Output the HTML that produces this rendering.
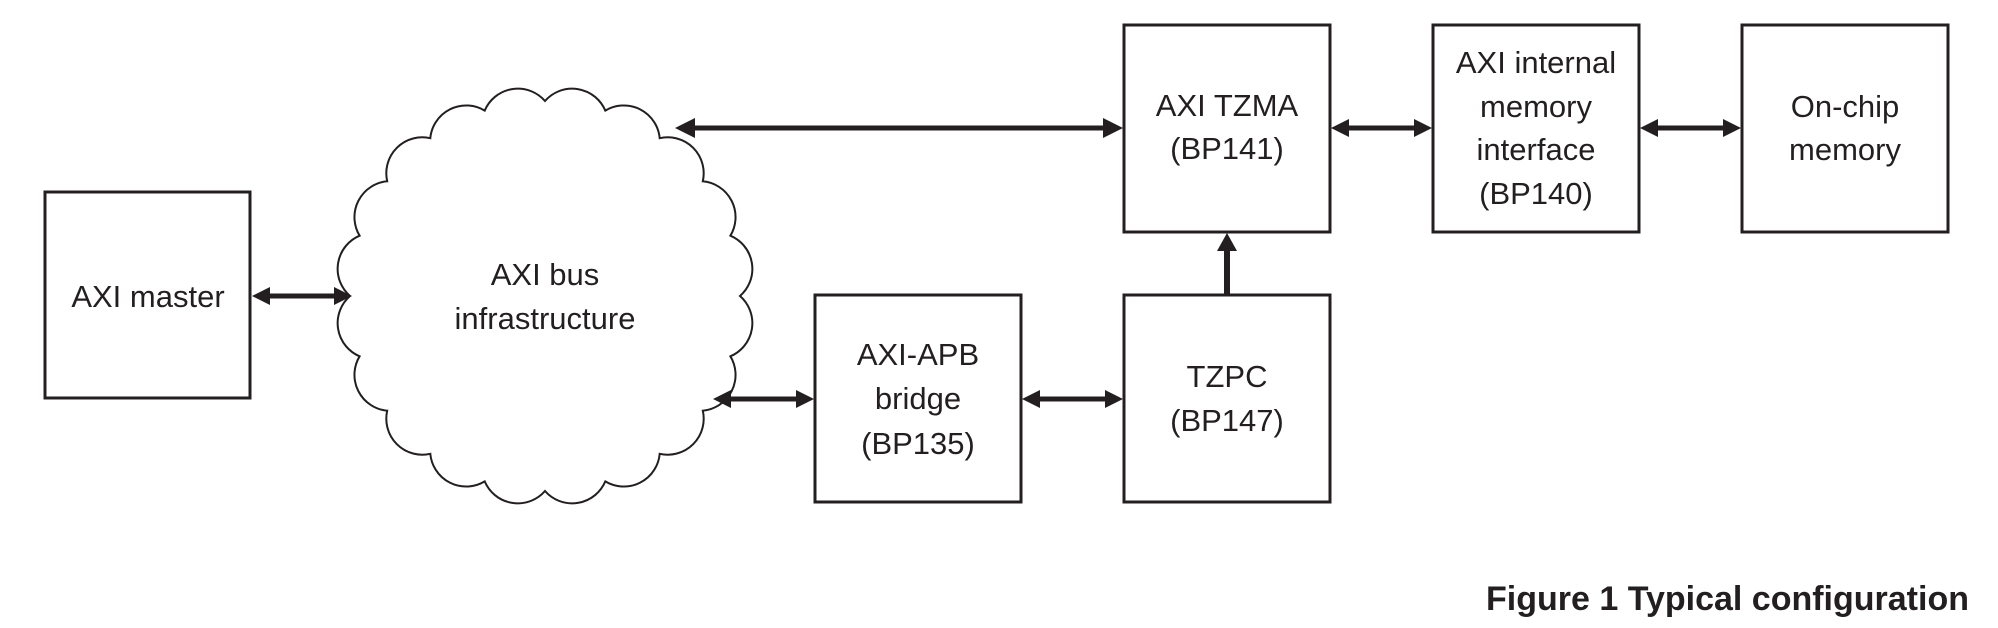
<!DOCTYPE html>
<html><head><meta charset="utf-8"><style>
html,body{margin:0;padding:0;background:#fff;}
svg{display:block;}
text{font-family:"Liberation Sans",Arial,sans-serif;fill:#231f20;}
</style></head><body>
<svg width="1998" height="628" viewBox="0 0 1998 628" xmlns="http://www.w3.org/2000/svg">
<g fill="none" stroke="#231f20" stroke-width="3">
<rect x="45" y="192" width="205" height="206"/>
<rect x="815" y="295" width="206" height="207"/>
<rect x="1124" y="295" width="206" height="207"/>
<rect x="1124" y="25" width="206" height="207"/>
<rect x="1433" y="25" width="206" height="207"/>
<rect x="1742" y="25" width="206" height="207"/>
</g>
<path fill="#fff" stroke="#231f20" stroke-width="2" d="M740,296 A36,36 0 0 1 730.4,356.3 A36,36 0 0 1 702.8,410.7 A36,36 0 0 1 659.7,453.8 A36,36 0 0 1 605.3,481.4 A36,36 0 0 1 545,491 A36,36 0 0 1 484.7,481.4 A36,36 0 0 1 430.3,453.8 A36,36 0 0 1 387.2,410.7 A36,36 0 0 1 359.6,356.3 A36,36 0 0 1 350,296 A36,36 0 0 1 359.6,235.7 A36,36 0 0 1 387.2,181.3 A36,36 0 0 1 430.3,138.2 A36,36 0 0 1 484.7,110.6 A36,36 0 0 1 545,101 A36,36 0 0 1 605.3,110.6 A36,36 0 0 1 659.7,138.2 A36,36 0 0 1 702.8,181.3 A36,36 0 0 1 730.4,235.7 A36,36 0 0 1 740,296 Z"/>
<g stroke="#231f20" stroke-width="5" fill="#231f20">
<!-- top long arrow -->
<line x1="690" y1="128" x2="1106" y2="128"/>
<polygon stroke="none" points="675,128 695,118 695,138"/>
<polygon stroke="none" points="1123,128 1103,118 1103,138"/>
<!-- master-cloud -->
<line x1="268" y1="296" x2="336" y2="296"/>
<polygon stroke="none" points="252,296 270,287 270,305"/>
<polygon stroke="none" points="352,296 334,287 334,305"/>
<!-- cloud-APB -->
<line x1="729" y1="399" x2="798" y2="399"/>
<polygon stroke="none" points="713,399 731,390 731,408"/>
<polygon stroke="none" points="814,399 796,390 796,408"/>
<!-- APB-TZPC -->
<line x1="1038" y1="399" x2="1106" y2="399"/>
<polygon stroke="none" points="1022,399 1040,390 1040,408"/>
<polygon stroke="none" points="1123,399 1105,390 1105,408"/>
<!-- TZMA-internal -->
<line x1="1347" y1="128" x2="1415" y2="128"/>
<polygon stroke="none" points="1331,128 1349,119 1349,137"/>
<polygon stroke="none" points="1432,128 1414,119 1414,137"/>
<!-- internal-onchip -->
<line x1="1656" y1="128" x2="1724" y2="128"/>
<polygon stroke="none" points="1640,128 1658,119 1658,137"/>
<polygon stroke="none" points="1741,128 1723,119 1723,137"/>
<!-- TZPC->TZMA -->
<line x1="1227" y1="294" x2="1227" y2="246" stroke-width="6"/>
<polygon stroke="none" points="1227,233 1217,251 1237,251"/>
</g>
<g font-size="31" text-anchor="middle">
<text x="148" y="307">AXI master</text>
<text x="545" y="285">AXI bus</text>
<text x="545" y="329">infrastructure</text>
<text x="918" y="365">AXI-APB</text>
<text x="918" y="409">bridge</text>
<text x="918" y="454">(BP135)</text>
<text x="1227" y="387">TZPC</text>
<text x="1227" y="431">(BP147)</text>
<text x="1227" y="116">AXI TZMA</text>
<text x="1227" y="159">(BP141)</text>
<text x="1536" y="73">AXI internal</text>
<text x="1536" y="117">memory</text>
<text x="1536" y="160">interface</text>
<text x="1536" y="204">(BP140)</text>
<text x="1845" y="117">On-chip</text>
<text x="1845" y="160">memory</text>
</g>
<text x="1969" y="610" font-size="34" font-weight="bold" text-anchor="end">Figure 1 Typical configuration</text>
</svg>
</body></html>
